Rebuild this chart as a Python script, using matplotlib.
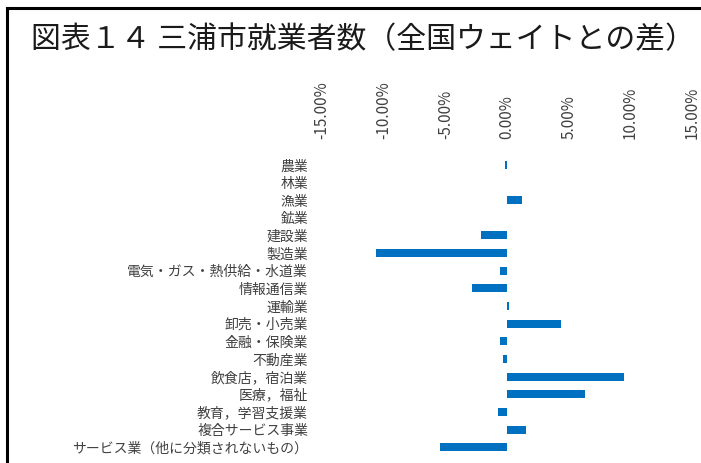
import matplotlib
matplotlib.use("Agg")
import matplotlib.pyplot as plt
from matplotlib.lines import Line2D
from matplotlib.ticker import FuncFormatter

plt.rcParams['font.family'] = ['Noto Sans CJK JP', 'DejaVu Sans']

# 産業分類
industries = ["農業", "林業", "漁業", "鉱業", "建設業", "製造業",
              "電気・ガス・熱供給・水道業", "情報通信業", "運輸業", "卸売・小売業",
              "金融・保険業", "不動産業", "飲食店，宿泊業", "医療，福祉",
              "教育，学習支援業", "複合サービス事業", "サービス業（他に分類されないもの）"]
# 全国ウェイトとの差 (%)
diff = [-0.2, 0.0, 1.2, 0.0, -2.1, -10.6,
        -0.6, -2.8, 0.2, 4.4,
        -0.6, -0.3, 9.5, 6.3,
        -0.7, 1.5, -5.4]
x_ticks = [-15, -10, -5, 0, 5, 10, 15]

fig = plt.figure(figsize=(7.01, 4.63), dpi=100)

# 外枠
fig.add_artist(Line2D([7 / 701, 1.0], [1 - 8 / 463, 1 - 8 / 463], color="black", lw=2.2))
fig.add_artist(Line2D([7 / 701, 7 / 701], [1 - 8 / 463, 0.0], color="black", lw=2.2))

# タイトル
fig.text(31 / 701, 1 - 40 / 463, "図表１４ 三浦市就業者数（全国ウェイトとの差）",
         fontsize=21.5, va="center", ha="left", color="#1a1a1a")

ax = fig.add_axes([322 / 701, 1 - 456 / 463, 370 / 701, 300 / 463])
y = list(range(len(industries)))
ax.barh(y, diff, height=0.45, color="#0070C0")
ax.set_ylim(len(industries) - 0.5, -0.5)
ax.set_xlim(-15, 15)
ax.set_yticks(y)
ax.set_yticklabels(industries, fontsize=10, color="#404040")
ax.set_xticks(x_ticks)
ax.xaxis.set_major_formatter(FuncFormatter(lambda v, p: "%.2f%%" % v))
ax.xaxis.tick_top()
ax.tick_params(axis="x", labelsize=11, labelcolor="#404040", rotation=90, length=0, pad=12)
ax.tick_params(axis="y", length=0, pad=10)
for s in ax.spines.values():
    s.set_visible(False)

plt.savefig("out.png", dpi=100)
